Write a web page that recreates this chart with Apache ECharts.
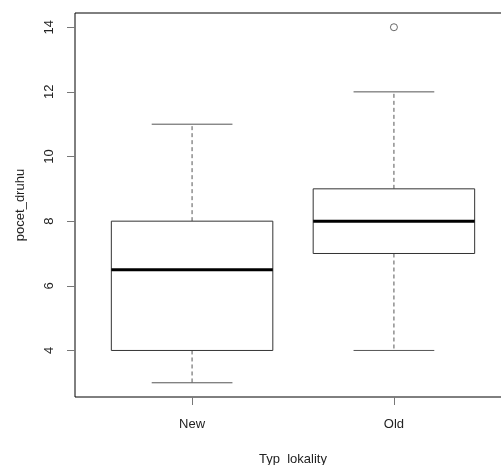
<!DOCTYPE html>
<html>
<head>
<meta charset="utf-8">
<script src="https://cdn.jsdelivr.net/npm/echarts@6/dist/echarts.min.js"></script>
<style>
  html, body { margin: 0; padding: 0; background: #fff; }
  #chart { width: 501px; height: 465px; }
</style>
</head>
<body>
<div id="chart"></div>
<script>
// data
const categories = ['New', 'Old']
const whiskerLow = [3, 4]
const lowerQuartile = [4, 7]
const medians = [6.5, 8]
const upperQuartile = [8, 9]
const whiskerHigh = [11, 12]
const outliers = [[2, 14]]
const yTicks = [4, 6, 8, 10, 12, 14]

;(function () {
    const chart = echarts.init(document.getElementById('chart'))

    const boxData = categories.map((c, i) => [i + 1, whiskerLow[i], lowerQuartile[i], medians[i], upperQuartile[i], whiskerHigh[i]])
    const fontFamily = 'Liberation Sans, Arial, sans-serif'

    function renderBox(params, api) {
        const x = api.value(0)
        const lo = api.value(1), q1 = api.value(2), med = api.value(3), q3 = api.value(4), hi = api.value(5)
        const pt = (xv, yv) => api.coord([xv, yv])
        const boxL = pt(x - 0.4, q3), boxR = pt(x + 0.4, q1)
        const whisk = { stroke: '#555', lineWidth: 1, lineDash: [4, 3] }
        const cap = { stroke: '#555', lineWidth: 1 }
        const line = (a, b, style) => ({
            type: 'line',
            shape: { x1: a[0], y1: a[1], x2: b[0], y2: b[1] },
            style: style
        })
        return {
            type: 'group',
            children: [
                line(pt(x, q3), pt(x, hi), whisk),
                line(pt(x, q1), pt(x, lo), whisk),
                line(pt(x - 0.2, hi), pt(x + 0.2, hi), cap),
                line(pt(x - 0.2, lo), pt(x + 0.2, lo), cap),
                {
                    type: 'rect',
                    shape: { x: boxL[0], y: boxL[1], width: boxR[0] - boxL[0], height: boxR[1] - boxL[1] },
                    style: { fill: '#fff', stroke: '#333', lineWidth: 1 }
                },
                line(pt(x - 0.4, med), pt(x + 0.4, med), { stroke: '#000', lineWidth: 3 })
            ]
        }
    }

    const option = {
        animation: false,
        grid: {
            left: 75,
            top: 13,
            width: 436,
            height: 384,
            outerBoundsMode: 'none',
            containLabel: false,
            show: true,
            borderColor: '#000',
            borderWidth: 1
        },
        xAxis: {
            type: 'value',
            min: 0.42,
            max: 2.58,
            name: 'Typ_lokality',
            nameLocation: 'middle',
            nameGap: 56,
            nameTextStyle: { color: '#222', fontSize: 13, fontFamily: fontFamily },
            axisLine: { show: false },
            splitLine: { show: false },
            axisTick: { show: true, length: 8, lineStyle: { color: '#777' }, customValues: [1, 2] },
            axisLabel: {
                color: '#222',
                fontSize: 13,
                fontFamily: fontFamily,
                margin: 21,
                customValues: [1, 2],
                formatter: v => categories[Math.round(v) - 1]
            }
        },
        yAxis: {
            type: 'value',
            min: 2.56,
            max: 14.44,
            name: 'pocet_druhu',
            nameLocation: 'middle',
            nameGap: 48,
            nameTextStyle: { color: '#222', fontSize: 13, fontFamily: fontFamily },
            axisLine: { show: false },
            splitLine: { show: false },
            axisTick: { show: true, length: 8, lineStyle: { color: '#777' }, customValues: yTicks },
            axisLabel: {
                color: '#222',
                fontSize: 13,
                fontFamily: fontFamily,
                rotate: 90,
                margin: 19,
                customValues: yTicks
            }
        },
        series: [
            {
                type: 'custom',
                renderItem: renderBox,
                encode: { x: 0, y: [1, 2, 3, 4, 5] },
                data: boxData,
                clip: false
            },
            {
                type: 'scatter',
                symbol: 'circle',
                symbolSize: 7,
                itemStyle: { color: '#fff', borderColor: '#444', borderWidth: 1 },
                data: outliers
            }
        ]
    }

    chart.setOption(option)
    window.addEventListener('resize', () => {
        chart.resize()
    })
})()
</script>
</body>
</html>
